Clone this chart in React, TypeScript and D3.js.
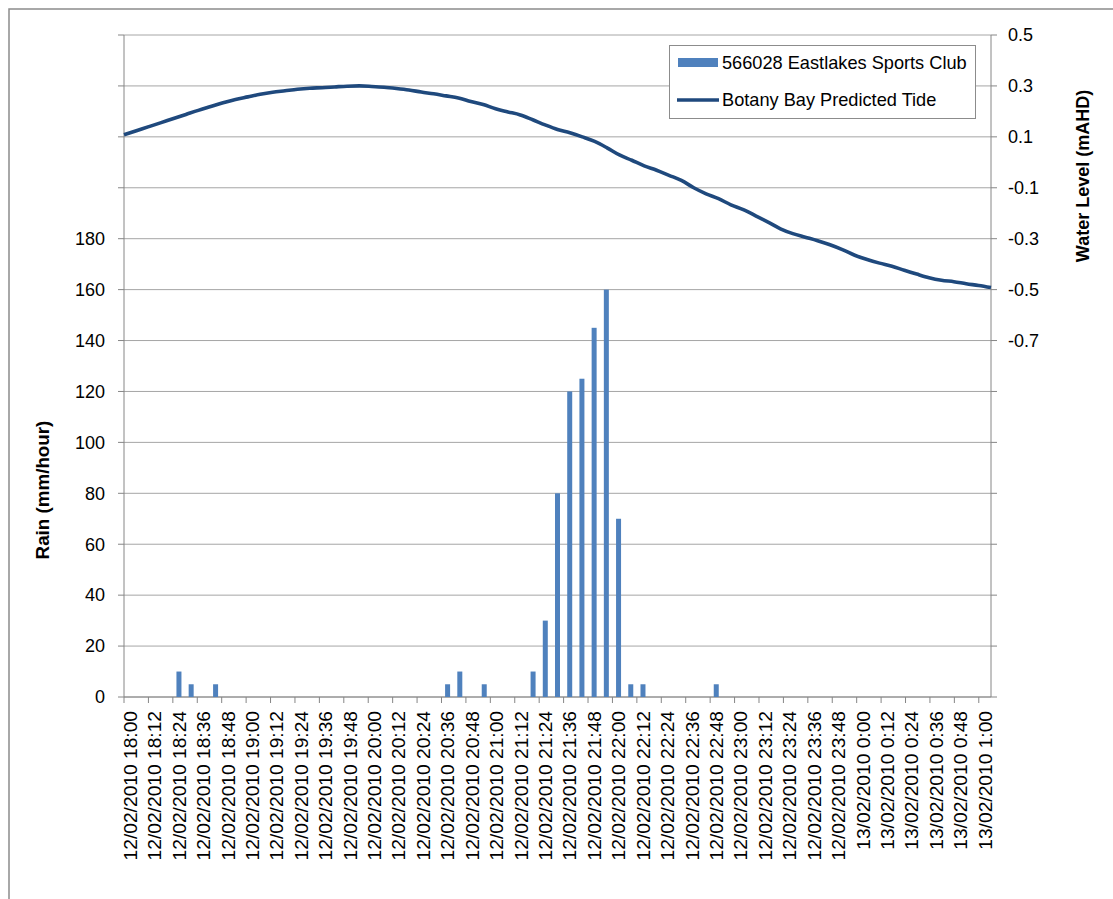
import React from "react";
import * as d3 from "d3";

// 6-minute timestamps from 12/02/2010 18:00 to 13/02/2010 1:00
const times: string[] = [
  "12/02/2010 18:00", "12/02/2010 18:06", "12/02/2010 18:12", "12/02/2010 18:18", "12/02/2010 18:24", "12/02/2010 18:30",
  "12/02/2010 18:36", "12/02/2010 18:42", "12/02/2010 18:48", "12/02/2010 18:54", "12/02/2010 19:00", "12/02/2010 19:06",
  "12/02/2010 19:12", "12/02/2010 19:18", "12/02/2010 19:24", "12/02/2010 19:30", "12/02/2010 19:36", "12/02/2010 19:42",
  "12/02/2010 19:48", "12/02/2010 19:54", "12/02/2010 20:00", "12/02/2010 20:06", "12/02/2010 20:12", "12/02/2010 20:18",
  "12/02/2010 20:24", "12/02/2010 20:30", "12/02/2010 20:36", "12/02/2010 20:42", "12/02/2010 20:48", "12/02/2010 20:54",
  "12/02/2010 21:00", "12/02/2010 21:06", "12/02/2010 21:12", "12/02/2010 21:18", "12/02/2010 21:24", "12/02/2010 21:30",
  "12/02/2010 21:36", "12/02/2010 21:42", "12/02/2010 21:48", "12/02/2010 21:54", "12/02/2010 22:00", "12/02/2010 22:06",
  "12/02/2010 22:12", "12/02/2010 22:18", "12/02/2010 22:24", "12/02/2010 22:30", "12/02/2010 22:36", "12/02/2010 22:42",
  "12/02/2010 22:48", "12/02/2010 22:54", "12/02/2010 23:00", "12/02/2010 23:06", "12/02/2010 23:12", "12/02/2010 23:18",
  "12/02/2010 23:24", "12/02/2010 23:30", "12/02/2010 23:36", "12/02/2010 23:42", "12/02/2010 23:48", "12/02/2010 23:54",
  "13/02/2010 0:00", "13/02/2010 0:06", "13/02/2010 0:12", "13/02/2010 0:18", "13/02/2010 0:24", "13/02/2010 0:30",
  "13/02/2010 0:36", "13/02/2010 0:42", "13/02/2010 0:48", "13/02/2010 0:54", "13/02/2010 1:00",
];

// Rainfall intensity, mm/hour (566028 Eastlakes Sports Club)
const rain: number[] = [
  0, 0, 0, 0, 10, 5, 0, 5, 0, 0,
  0, 0, 0, 0, 0, 0, 0, 0, 0, 0,
  0, 0, 0, 0, 0, 0, 5, 10, 0, 5,
  0, 0, 0, 10, 30, 80, 120, 125, 145, 160,
  70, 5, 5, 0, 0, 0, 0, 0, 5, 0,
  0, 0, 0, 0, 0, 0, 0, 0, 0, 0,
  0, 0, 0, 0, 0, 0, 0, 0, 0, 0,
  0,
];

// Botany Bay predicted tide, mAHD
const tide: number[] = [
  0.108, 0.124, 0.140, 0.156, 0.172, 0.188, 0.204, 0.219, 0.234, 0.247,
  0.257, 0.267, 0.275, 0.281, 0.287, 0.291, 0.293, 0.296, 0.299, 0.300,
  0.298, 0.295, 0.290, 0.284, 0.276, 0.269, 0.261, 0.253, 0.239, 0.227,
  0.210, 0.198, 0.186, 0.167, 0.147, 0.129, 0.116, 0.100, 0.082, 0.057,
  0.029, 0.008, -0.014, -0.031, -0.051, -0.071, -0.100, -0.124, -0.143, -0.167,
  -0.186, -0.210, -0.235, -0.261, -0.280, -0.294, -0.308, -0.324, -0.343, -0.365,
  -0.382, -0.396, -0.408, -0.424, -0.439, -0.453, -0.463, -0.469, -0.477, -0.484,
  -0.492,
];

const rainTicks: number[] = [0, 20, 40, 60, 80, 100, 120, 140, 160, 180];
const tideTicks: string[] = ["0.5", "0.3", "0.1", "-0.1", "-0.3", "-0.5", "-0.7"];

const seriesNames = ["566028 Eastlakes Sports Club", "Botany Bay Predicted Tide"];

const W = 1113;
const H = 899;
const left = 124;
const right = 991;
const top = 35;
const bottom = 697;

const BAR = "#4f81bd";
const LINE = "#1f497d";
const GRID = "#a6a6a6";
const AXIS = "#868686";
const FONT = "'Liberation Sans', Arial, sans-serif";

export default function App() {
  const x = d3.scaleBand<string>().domain(times).range([left, right]).paddingInner(0).paddingOuter(0);
  const bw = x.bandwidth();
  const xp = d3.scalePoint<string>().domain(times).range([left, right]);
  const yL = d3.scaleLinear().domain([0, 260]).range([bottom, top]);
  const yR = d3.scaleLinear().domain([-2.1, 0.5]).range([bottom, top]);

  const gridVals = d3.range(0, 261, 20);
  const barW = 5;

  const line = d3
    .line<number>()
    .x((_, i) => xp(times[i]) as number)
    .y((d) => yR(d))
    .curve(d3.curveMonotoneX);

  // ticks at every second category boundary
  const tickIdx = d3.range(0, times.length, 2);

  return (
    <svg
      width={W}
      height={H}
      style={{ position: "absolute", left: 0, top: 0, background: "#fff" }}
      fontFamily={FONT}
    >
      <rect x={9} y={9} width={W + 10} height={H + 10} fill="#fff" stroke="#8c8c8c" strokeWidth={1.5} />

      {/* gridlines */}
      {gridVals.map((v) => (
        <line key={"g" + v} x1={left} x2={right} y1={yL(v)} y2={yL(v)} stroke={GRID} strokeWidth={1} />
      ))}

      {/* axes */}
      <line x1={left} x2={left} y1={top} y2={bottom} stroke={AXIS} />
      <line x1={right} x2={right} y1={top} y2={bottom} stroke={AXIS} />
      <line x1={left} x2={right} y1={bottom} y2={bottom} stroke={AXIS} />

      {/* left ticks */}
      {gridVals.map((v) => (
        <line key={"lt" + v} x1={left - 6} x2={left} y1={yL(v)} y2={yL(v)} stroke={AXIS} />
      ))}
      {rainTicks.map((v) => (
        <text key={"ll" + v} x={105} y={yL(v)} dy="0.35em" textAnchor="end" fontSize={18} fill="#000">
          {v}
        </text>
      ))}

      {/* right ticks */}
      {gridVals.map((v) => (
        <line key={"rt" + v} x1={right} x2={right + 6} y1={yL(v)} y2={yL(v)} stroke={AXIS} />
      ))}
      {tideTicks.map((s) => (
        <text key={"rl" + s} x={1008} y={yR(+s)} dy="0.35em" textAnchor="start" fontSize={18} fill="#000">
          {s}
        </text>
      ))}

      {/* x ticks and labels */}
      {tickIdx.map((i) => (
        <line
          key={"xt" + i}
          x1={x(times[i]) as number}
          x2={x(times[i]) as number}
          y1={bottom}
          y2={bottom + 6}
          stroke={AXIS}
        />
      ))}
      {tickIdx.map((i) => {
        const cx = (x(times[i]) as number) + bw / 2;
        return (
          <text
            key={"xl" + i}
            transform={`translate(${cx},${711}) rotate(-90)`}
            dy="0.35em"
            textAnchor="end"
            fontSize={19.2}
            fill="#000"
          >
            {times[i]}
          </text>
        );
      })}

      {/* rain bars */}
      {rain.map((v, i) =>
        v > 0 ? (
          <rect
            key={"b" + i}
            x={(x(times[i]) as number) + (bw - barW) / 2}
            y={yL(v)}
            width={barW}
            height={yL(0) - yL(v)}
            fill={BAR}
          />
        ) : null
      )}

      {/* tide line */}
      <path d={line(tide) || ""} fill="none" stroke={LINE} strokeWidth={3.6} strokeLinejoin="round" />

      {/* axis titles */}
      <text
        transform={`translate(42,490) rotate(-90)`}
        dy="0.35em"
        textAnchor="middle"
        fontSize={18.8}
        fontWeight="bold"
        fill="#000"
      >
        Rain (mm/hour)
      </text>
      <text
        transform={`translate(1083,176) rotate(-90)`}
        dy="0.35em"
        textAnchor="middle"
        fontSize={18}
        fontWeight="bold"
        fill="#000"
      >
        Water Level (mAHD)
      </text>

      {/* legend */}
      <rect x={669.5} y={45.5} width={306} height={73} fill="#fff" stroke="#8c8c8c" />
      <rect x={678} y={58} width={40} height={9} fill={BAR} />
      <text x={722} y={63} dy="0.35em" fontSize={18.2} fill="#000">
        {seriesNames[0]}
      </text>
      <line x1={677} x2={719} y1={100} y2={100} stroke={LINE} strokeWidth={3.6} />
      <text x={722} y={100} dy="0.35em" fontSize={18.2} fill="#000">
        {seriesNames[1]}
      </text>
    </svg>
  );
}
